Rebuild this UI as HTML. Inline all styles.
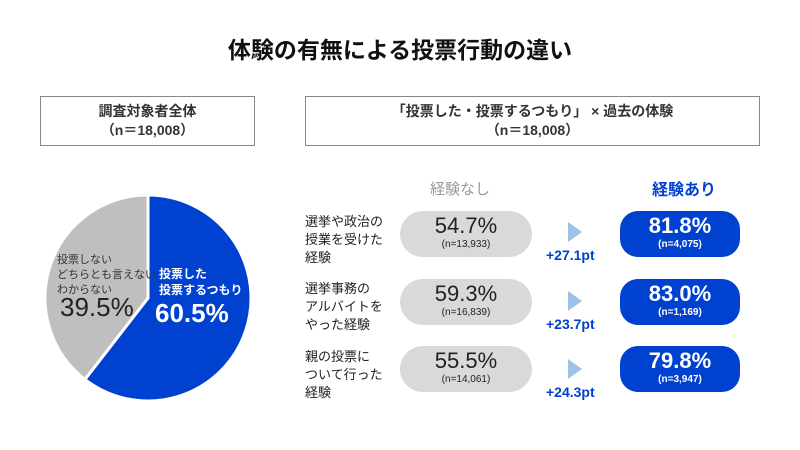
<!DOCTYPE html><html><head><meta charset="utf-8"><style>
body{margin:0;width:800px;height:450px;background:#fff;position:relative;overflow:hidden;font-family:"Liberation Sans","Noto Sans CJK JP",sans-serif;color:#222}
.a{position:absolute}
.box{position:absolute;border:1px solid #888;box-sizing:border-box;text-align:center;font-weight:bold;font-size:14px;line-height:19px;padding-top:5px;color:#333}
.g{position:absolute;left:400px;width:132px;height:46px;border-radius:23px;background:#d9d9d9;text-align:center}
.b{position:absolute;left:620px;width:120px;height:46px;border-radius:18px;background:#0041d0;color:#fff;text-align:center;font-weight:bold}
.g .v{font-size:22px;line-height:24px;margin-top:3px}
.g .n,.b .n{font-size:10px;line-height:13px}
.b .v{font-size:22px;line-height:24px;margin-top:3px}
.lab{position:absolute;left:305px;font-size:13px;line-height:18px;color:#222}
.pt{position:absolute;left:546px;font-size:14px;font-weight:bold;color:#0041d0}
.tri{position:absolute;left:568px;width:0;height:0;border-left:14px solid #9cc3e6;border-top:10px solid transparent;border-bottom:10px solid transparent}
</style></head><body>
<div class="a" style="left:0;width:800px;top:31px;text-align:center;font-size:23px;font-weight:bold;color:#111">体験の有無による投票行動の違い</div>
<div class="box" style="left:40px;top:96px;width:215px;height:50px">調査対象者全体<br>（n＝18,008）</div>
<div class="box" style="left:305px;top:96px;width:455px;height:50px">「投票した・投票するつもり」 × 過去の体験<br>（n＝18,008）</div>
<svg class="a" style="left:0;top:0" width="300" height="450">
<path d="M148,298 L148,195 A103,103 0 1,1 84.9,379.4 Z" fill="#0041d0" stroke="#fff" stroke-width="3"/>
<path d="M148,298 L84.9,379.4 A103,103 0 0,1 148,195 Z" fill="#bfbfbf" stroke="#fff" stroke-width="3"/>
</svg>
<div class="a" style="left:57px;top:253px;font-size:11px;line-height:15px;color:#333">投票しない<br>どちらとも言えない<br>わからない</div>
<div class="a" style="left:60px;top:292px;font-size:26px;color:#222">39.5%</div>
<div class="a" style="left:159px;top:266px;font-size:12px;line-height:16px;color:#fff;font-weight:bold">投票した<br>投票するつもり</div>
<div class="a" style="left:155px;top:298px;font-size:26px;color:#fff;font-weight:bold">60.5%</div>
<div class="a" style="left:430px;top:178px;font-size:15px;color:#999">経験なし</div>
<div class="a" style="left:652px;top:176px;font-size:16px;color:#0041d0;font-weight:bold">経験あり</div>
<div class="lab" style="top:213px">選挙や政治の<br>授業を受けた<br>経験</div>
<div class="lab" style="top:280px">選挙事務の<br>アルバイトを<br>やった経験</div>
<div class="lab" style="top:348px">親の投票に<br>ついて行った<br>経験</div>
<div class="g" style="top:211px"><div class="v">54.7%</div><div class="n">(n=13,933)</div></div>
<div class="g" style="top:279px"><div class="v">59.3%</div><div class="n">(n=16,839)</div></div>
<div class="g" style="top:346px"><div class="v">55.5%</div><div class="n">(n=14,061)</div></div>
<div class="b" style="top:211px"><div class="v">81.8%</div><div class="n">(n=4,075)</div></div>
<div class="b" style="top:279px"><div class="v">83.0%</div><div class="n">(n=1,169)</div></div>
<div class="b" style="top:346px"><div class="v">79.8%</div><div class="n">(n=3,947)</div></div>
<div class="tri" style="top:222px"></div><div class="tri" style="top:291px"></div><div class="tri" style="top:359px"></div>
<div class="pt" style="top:247px">+27.1pt</div>
<div class="pt" style="top:316px">+23.7pt</div>
<div class="pt" style="top:384px">+24.3pt</div>
</body></html>
